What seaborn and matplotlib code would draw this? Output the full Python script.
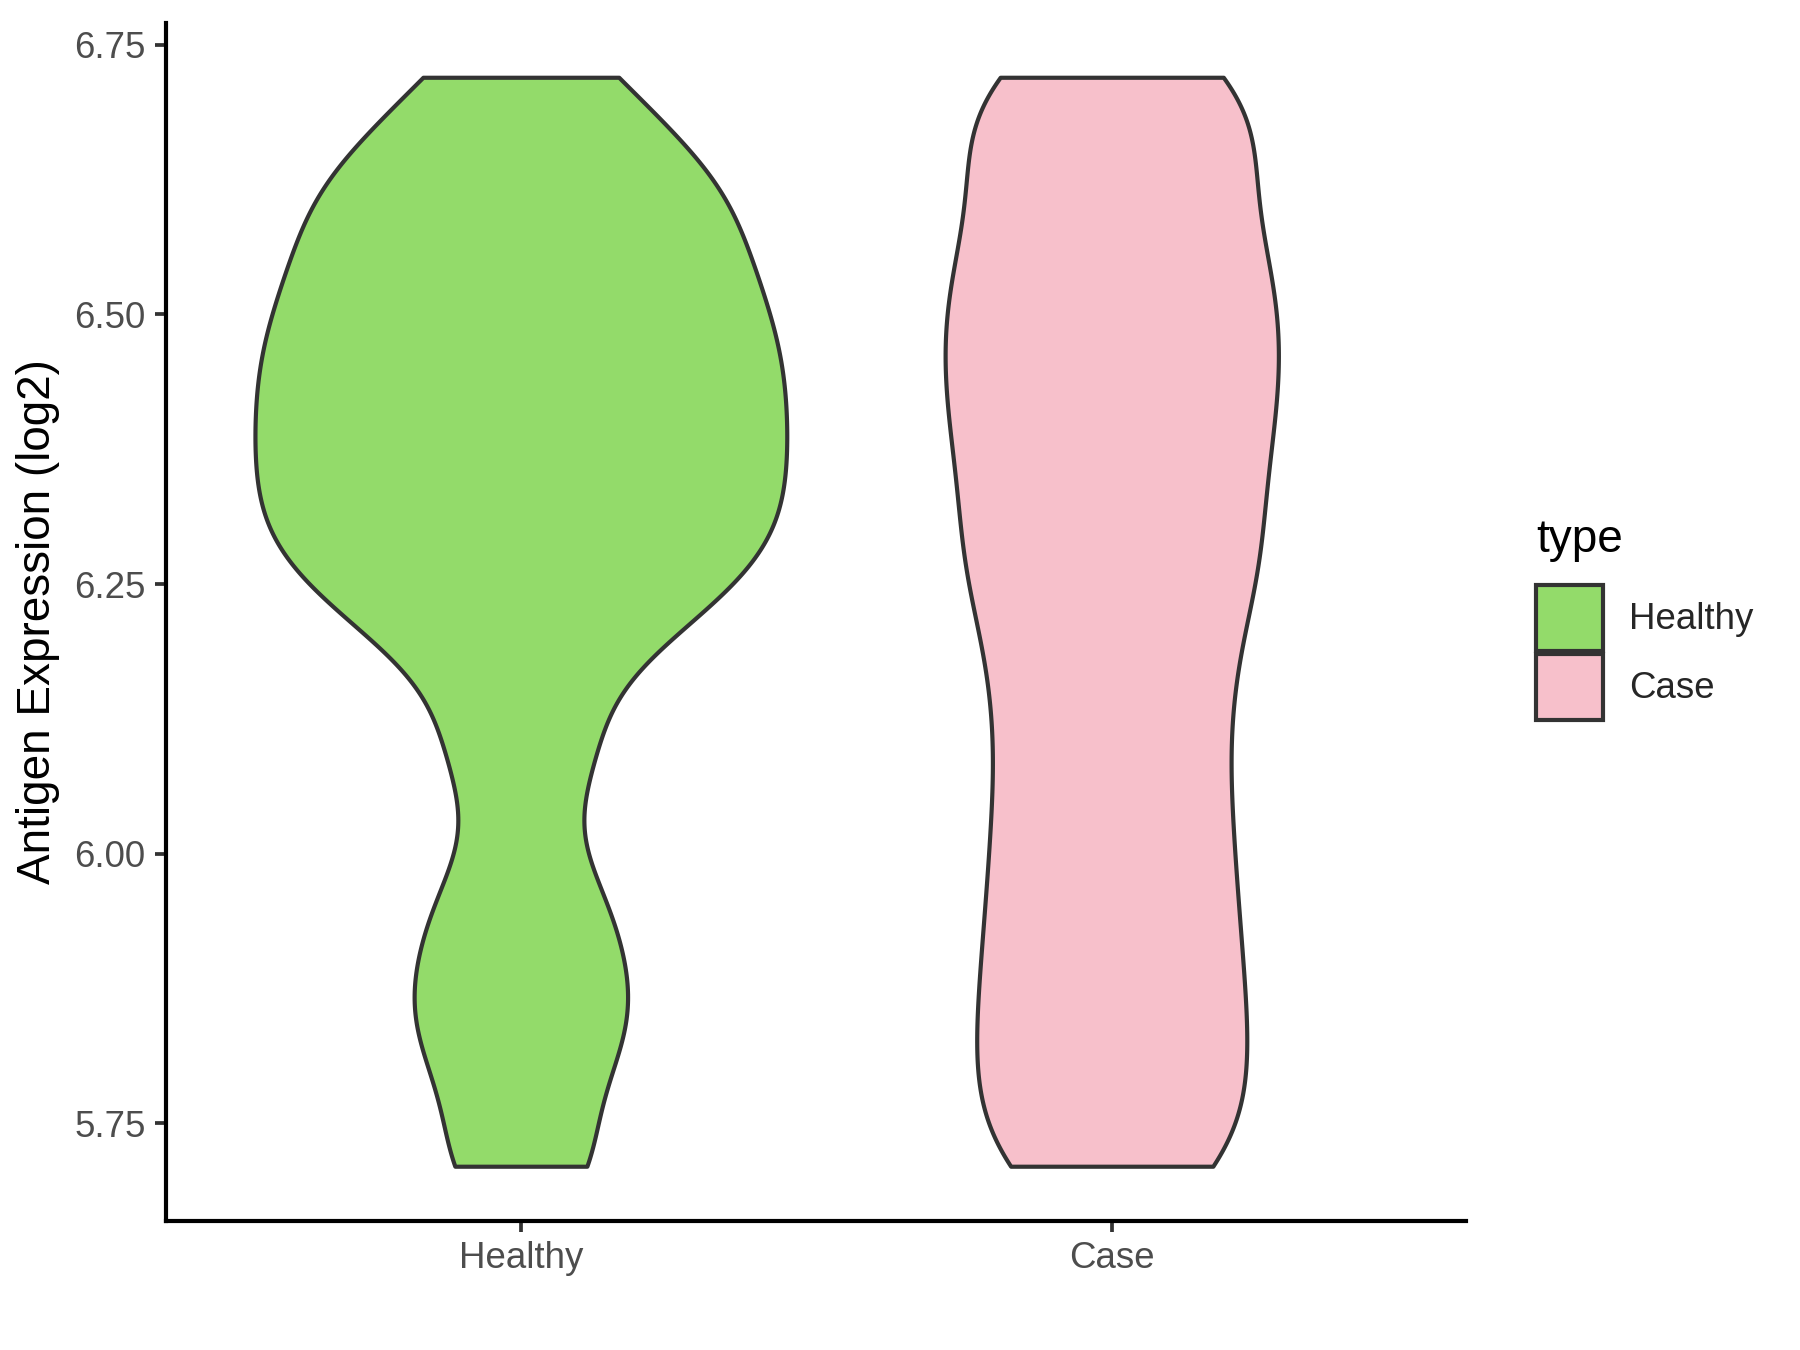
import numpy as np
import pandas as pd
import matplotlib
matplotlib.use("Agg")
import matplotlib.pyplot as plt
from matplotlib.patches import Patch
import seaborn as sns

# ---- data ----
categories = ["Healthy", "Case"]
healthy_values = [5.71, 5.815, 5.88, 5.96, 6.09, 6.19, 6.24, 6.27, 6.30, 6.33,
                  6.36, 6.39, 6.42, 6.45, 6.48, 6.51, 6.545, 6.58, 6.62, 6.65, 6.72]
case_values = [5.71, 5.79, 5.87, 5.955, 6.045, 6.14, 6.23, 6.30, 6.375, 6.44,
               6.505, 6.57, 6.655, 6.72]
colors = {"Healthy": "#93DB6A", "Case": "#F7C0CB"}
# relative peak widths of the two violins, as seen in the reference
violin_widths = {"Healthy": 0.9, "Case": 0.564}
y_ticks = [5.75, 6.00, 6.25, 6.50, 6.75]
y_label = "Antigen Expression (log2)"
legend_title = "type"

df = pd.DataFrame({
    "type": ["Healthy"] * len(healthy_values) + ["Case"] * len(case_values),
    "value": healthy_values + case_values,
})

sns.set_style("white")
plt.rcParams["font.family"] = ["Liberation Sans", "DejaVu Sans"]

fig = plt.figure(figsize=(6, 4.5), dpi=300)
ax = fig.add_axes([0.0924, 0.0958, 0.7222, 0.8873])

edge = "#333333"
for cat in categories:
    sns.violinplot(data=df[df["type"] == cat], x="type", y="value", hue="type",
                   order=categories, hue_order=categories, palette=colors,
                   saturation=1, cut=0, inner=None, width=violin_widths[cat],
                   density_norm="area", bw_method=0.21, gridsize=400,
                   linewidth=1.0, linecolor=edge, legend=False, ax=ax)

vmin = df["value"].min()
vmax = df["value"].max()
rng = vmax - vmin
ax.set_ylim(vmin - 0.05 * rng, vmax + 0.05 * rng)
ax.set_xlim(-0.6, 1.6)
ax.set_xticks([0, 1])
ax.set_xticklabels(categories)
ax.set_yticks(y_ticks)
ax.set_yticklabels([f"{t:.2f}" for t in y_ticks])

ax.set_xlabel("")
ax.set_ylabel(y_label, fontsize=11, color="black", labelpad=3.5)

for side in ["top", "right"]:
    ax.spines[side].set_visible(False)
for side in ["left", "bottom"]:
    ax.spines[side].set_color("black")
    ax.spines[side].set_linewidth(1.0)

ax.tick_params(axis="both", which="major", length=2.75, width=0.9,
               color=edge, labelcolor="#4D4D4D", labelsize=8.8, pad=2.2,
               left=True, bottom=True)
ax.grid(False)

handles = [Patch(facecolor=colors[c], edgecolor=edge, linewidth=1.0, label=c)
           for c in categories]
fig.legend(handles=handles, loc="upper left",
           bbox_to_anchor=(1536 / 1800, 1 - 585 / 1350),
           frameon=False, fontsize=8.8, handlelength=1.82, handleheight=2.39,
           handletextpad=0.72, labelspacing=0.08, borderpad=0.0,
           borderaxespad=0.0)
fig.text(1536 / 1800, 1 - 540 / 1350, legend_title, fontsize=11,
         ha="left", va="center", color="black")

fig.savefig("out.png", dpi=300, facecolor="white")
